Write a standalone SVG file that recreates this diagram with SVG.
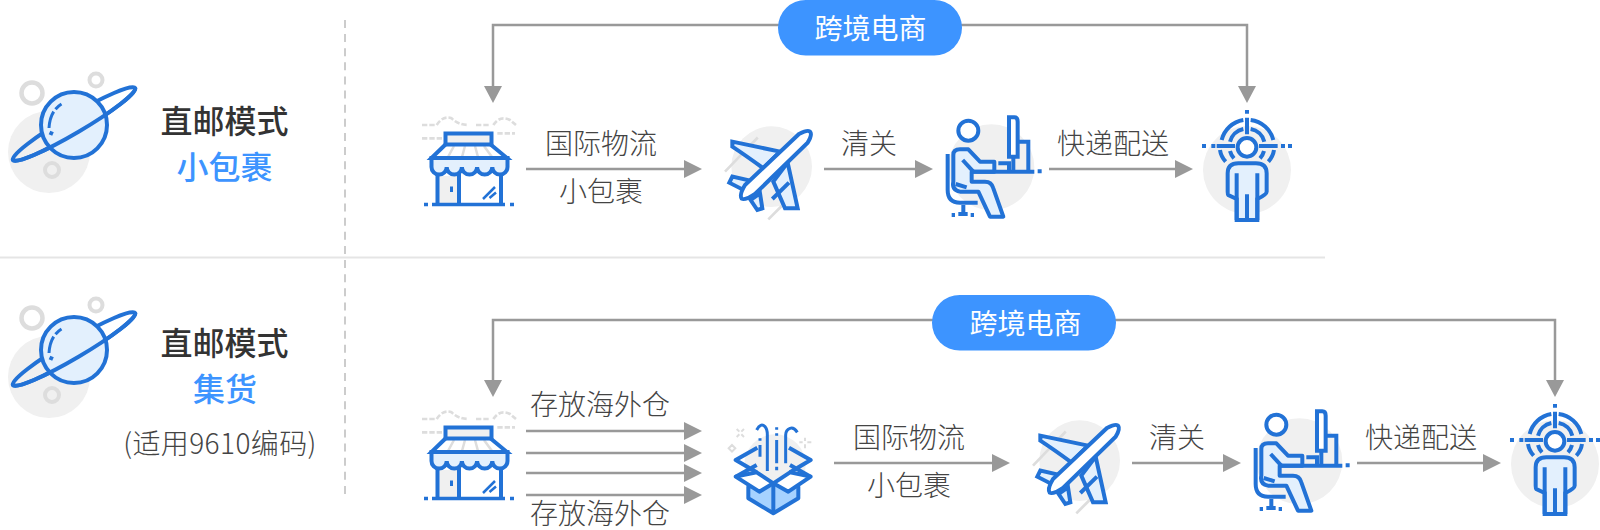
<svg xmlns="http://www.w3.org/2000/svg" width="1600" height="530" viewBox="0 0 1600 530">
<style>
text{font-family:"Noto Sans CJK SC","Noto Sans",sans-serif;text-anchor:middle}
.t{font-size:28px;fill:#444;font-weight:300}
.h{font-size:32px;fill:#333;font-weight:500}
.s{font-size:32px;fill:#3d94ff;font-weight:500}
.p{font-size:28px;fill:#fff;font-weight:400}
.l{fill:none;stroke:#999;stroke-width:2.5}
.a{fill:#999}
.b{fill:none;stroke:#2272d6;stroke-width:12;stroke-linejoin:miter}
.bf{fill:#e3f0fd;stroke:#2272d6;stroke-width:12}
.wf{fill:#fff;stroke:#2272d6;stroke-width:12}
.g{fill:#f0f0f0}
.d{fill:none;stroke:#ddd;stroke-width:8}
.o{fill:none;stroke:#2272d6;stroke-width:4}
</style>
<defs>
<g id="planet">
<circle cx="49" cy="152" r="41" fill="#f0f0f0"/>
<circle cx="32" cy="93" r="10.5" fill="none" stroke="#ddd" stroke-width="4.5"/>
<circle cx="96" cy="80" r="6.5" fill="none" stroke="#ddd" stroke-width="4"/>
<circle cx="52" cy="170" r="7" fill="none" stroke="#ddd" stroke-width="4"/>
<ellipse class="o" cx="74" cy="124" rx="71" ry="9" transform="rotate(-30.5 74 124)"/>
<circle cx="74" cy="125" r="33" fill="#e3f0fd" stroke="#2272d6" stroke-width="4"/>
<path class="o" d="M-71 0A71 9 0 0 0 71 0" transform="translate(74 124) rotate(-30.5)"/>
<path d="M61.500 104Q50 111 49 128" fill="none" stroke="#2272d6" stroke-width="3" stroke-dasharray="8 3 30"/>
<path d="M49.500 132.500L53 134" fill="none" stroke="#2272d6" stroke-width="4"/>
</g>
<g id="store">
<g transform="translate(410 100) scale(.3333)">
<path class="d" d="M36 75H80M80 75Q100 45 125 55Q145 75 175 75M198 75H240M250 75Q270 45 300 60L318 75M36 115H100M262 100H315" stroke-dasharray="16 6"/>
</g>
<path d="M437 158H501V205H437Z" fill="#fff"/>
<rect x="437.500" y="176" width="21" height="29" fill="#f0f0f0"/>
<path d="M446 144L431.500 158H507L490 144Z" fill="#fff" stroke="#2272d6" stroke-width="4"/>
<path d="M454 146L448 157M465 146L462 157M475 146L478 157M484 146L492 157" fill="none" stroke="#ddd" stroke-width="2.500"/>
<rect x="445.500" y="133.500" width="46" height="11" fill="#f0f0f0" stroke="#2272d6" stroke-width="4"/>
<path d="M431.500 158V167A7.600 7.600 0 0 0 446.700 167A7.600 7.600 0 0 0 461.900 167A7.600 7.600 0 0 0 477.100 167A7.600 7.600 0 0 0 492.300 167A7.600 7.600 0 0 0 507.500 167V158Z" fill="#e3f0fd" stroke="#2272d6" stroke-width="4"/>
<path d="M437.500 174V204M459 174V204M501 174V204" fill="none" stroke="#2272d6" stroke-width="4"/>
<path d="M432 204.500H505" fill="none" stroke="#2272d6" stroke-width="3.500"/>
<path d="M424 204.500H428M510 204.500H514" fill="none" stroke="#2272d6" stroke-width="3.500"/>
<path d="M451.500 186.500V192" fill="none" stroke="#2272d6" stroke-width="3"/>
<path d="M483 199L495 187M489.500 198L496 192.500" fill="none" stroke="#2272d6" stroke-width="2.500"/>
</g>
<g id="plane" transform="translate(725 120) scale(.3333)">
<circle class="g" cx="140" cy="140" r="121"/>
<path class="d" d="M0 155L115 35M130 298L170 258" stroke-dasharray="100 12 30"/>
<path class="bf" d="M22 65L165 95L115 145Q60 105 22 80Z"/>
<path class="bf" d="M188 128L218 265H180L145 185Z"/>
<path class="bf" d="M13 188L22 170L75 182L60 212Z"/>
<path class="bf" d="M105 220L112 265L97 270L77 240Z"/>
<path class="b" d="M142 237L192 188"/>
<path class="wf" d="M222 42Q250 28 256 36Q262 45 248 68L90 222Q60 242 50 236Q42 225 60 195Z"/>
</g>
<g id="person" transform="translate(935 110) scale(.3333)">
<circle class="g" cx="169" cy="172" r="129"/>
<path class="bf" d="M55 215V135Q55 118 75 118H100L135 155H178V185H110V215H150Q170 215 175 235L205 320H165L130 245H75Q50 240 55 215Z" stroke-linejoin="round"/>
<path class="b" d="M83 150L115 185"/>
<path class="b" d="M62 222L95 232"/>
<circle class="wf" cx="100" cy="62" r="30"/>
<path class="b" d="M38 132V240Q38 278 75 278H128M85 285V312M70 312H98"/>
<path class="b" d="M50 315H60M107 315H117M110 185H298M308 184H320"/>
<path class="b" d="M248 95H280V185M235 140V185M190 160H222V185"/>
<path class="wf" d="M222 22H238Q248 22 248 35V140H222Z"/>
</g>
<g id="target" transform="translate(1195 105) scale(.3333)">
<circle class="g" cx="156" cy="195" r="132"/>
<path class="bf" d="M100 270Q98 268 98 260V205Q98 175 130 175H183Q215 175 215 205V260Q215 268 187 282V345H125V282Z"/>
<path class="b" d="M125 205V345M187 205V345M156 268V345"/>
<circle class="wf" cx="156" cy="127" r="28"/>
<path class="b" d="M156 15V26M156 38V88M21 123H33M49 123H61M65 123H120M192 123H248M258 123H270M279 123H291"/>
<path class="b" d="M80 105A80 80 0 0 1 145 45M167 45A80 80 0 0 1 235 105M105 110A52 52 0 0 1 145 72M167 72A52 52 0 0 1 208 110M75 135Q78 155 92 170M105 138Q108 150 117 160M237 135Q234 155 220 170M207 138Q204 150 195 160"/>
</g>
</defs>

<g id="connectors">
<path class="l" d="M493 86V25H1247V86"/>
<path class="a" d="M484 86H502L493 103ZM1238 86H1256L1247 103Z"/>
<path class="l" d="M526 169H686M824 169H917M1049 169H1177"/>
<path class="a" d="M684 160V178L702 169ZM915 160V178L933 169ZM1175 160V178L1193 169Z"/>
<path class="l" d="M493 380V320H1555V380"/>
<path class="a" d="M484 380H502L493 397ZM1546 380H1564L1555 397Z"/>
<path class="l" d="M526 431H686M526 453H686M526 473H686M526 495H686M834 463H994M1132 463H1225M1357 463H1485"/>
<path class="a" d="M684 422V440L702 431ZM684 444V462L702 453ZM684 464V482L702 473ZM684 486V504L702 495ZM992 454V472L1010 463ZM1223 454V472L1241 463ZM1483 454V472L1501 463Z"/>
<path d="M345 20V494" fill="none" stroke="#ccc" stroke-width="2" stroke-dasharray="8 6.120"/>
<path d="M0 257.500H1325" fill="none" stroke="#e5e5e5" stroke-width="2"/>
</g>

<g id="mode1"><use href="#planet"/>
<text class="h" x="224.500" y="133">直邮模式</text><text class="s" x="224.500" y="179">小包裹</text></g>
<g id="mode2"><use href="#planet" y="225"/>
<text class="h" x="224.500" y="355">直邮模式</text><text class="s" x="225" y="401">集货</text><text class="t" x="220" y="454" style="letter-spacing:.4px">(适用9610编码)</text></g>

<g id="pill1"><rect x="778" y="0" width="184" height="55.500" rx="27.700" fill="#3d94ff"/><text class="p" x="870.500" y="39">跨境电商</text></g>
<g id="pill2"><rect x="932" y="295" width="184" height="55.500" rx="27.700" fill="#3d94ff"/><text class="p" x="1025.500" y="334">跨境电商</text></g>

<g id="store1"><use href="#store"/></g>
<g id="plane1"><use href="#plane"/></g>
<g id="person1"><use href="#person"/></g>
<g id="target1"><use href="#target"/></g>
<g id="store2"><use href="#store" y="294"/></g>
<g id="box2" transform="translate(720 415) scale(.3333)">
<circle class="g" cx="165" cy="150" r="92"/>
<path class="d" d="M50 42L58 50M72 42L64 50M50 66L58 58M72 66L64 58M26 100L36 90L46 100L36 110ZM238 82H248M262 82H274M255 68V78M255 88V100" style="stroke-width:6px"/>
<path d="M85 215V250L160 295L235 250V215L160 205Z" fill="#a6d2ff" stroke="#2272d6" stroke-width="12" stroke-linejoin="round"/>
<path class="b" d="M160 205V295"/>
<path d="M47 185L118 230L160 205L110 172ZM272 185L205 230L160 205L210 172Z" fill="#fff" stroke="#2272d6" stroke-width="12" stroke-linejoin="round"/>
<path class="b" style="stroke-linejoin:round" d="M110 172L47 135L112 98M210 172L272 135L207 98M47 185L110 150M272 185L210 150"/>
<path class="b" d="M110 45Q122 22 135 35Q142 42 142 60V168M120 70V77M120 90V125M170 37V44M170 55V62M170 75V145M170 155V166M232 52Q222 36 210 40Q197 45 197 60V145" style="stroke-width:9px"/>
</g>
<g id="plane2"><use href="#plane" transform="translate(308 294)"/></g>
<g id="person2"><use href="#person" transform="translate(308 294)"/></g>
<g id="target2"><use href="#target" transform="translate(308 294)"/></g>

<g id="labels">
<text class="t" x="601" y="154">国际物流</text><text class="t" x="601" y="202">小包裹</text>
<text class="t" x="869" y="154">清关</text><text class="t" x="1113" y="154">快递配送</text>
<text class="t" x="600" y="415">存放海外仓</text><text class="t" x="600" y="524">存放海外仓</text>
<text class="t" x="909" y="448">国际物流</text><text class="t" x="909" y="496">小包裹</text>
<text class="t" x="1177" y="448">清关</text><text class="t" x="1421" y="448">快递配送</text>
</g>
</svg>
